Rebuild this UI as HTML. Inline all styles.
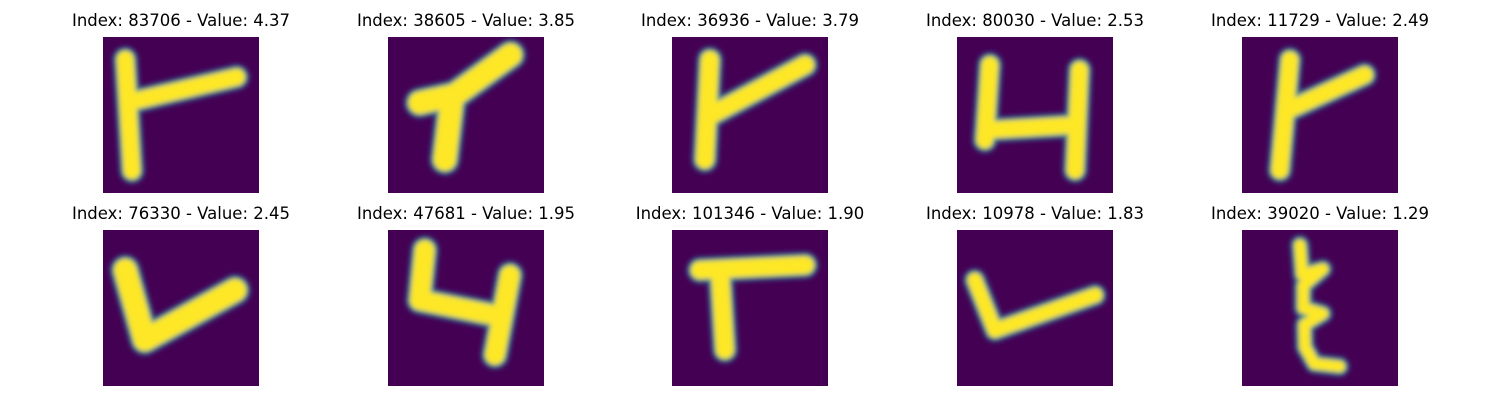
<!DOCTYPE html>
<html><head><meta charset="utf-8">
<style>
html,body{margin:0;padding:0;background:#fff;}
#root{position:relative;width:1500px;height:400px;overflow:hidden;font-family:"DejaVu Sans","Liberation Sans",sans-serif;}
.title{position:absolute;width:300px;text-align:center;font-size:16.5px;color:#000;white-space:nowrap;}
svg.img{position:absolute;width:156px;height:156px;}
</style></head>
<body>
<div id="root"></div>
<script>
const indices=[83706,38605,36936,80030,11729,76330,47681,101346,10978,39020];
const values=[4.37,3.85,3.79,2.53,2.49,2.45,1.95,1.90,1.83,1.29];
const strokes=[
 [[[4,4],[5.2,24]],[[5.5,11.5],[24,7.2]]],
 [[[10.2,22],[11.5,11]],[[5.7,11.8],[12,10.4],[22,3.2]]],
 [[[6.8,4.1],[5.9,22]],[[7,14],[23.9,5]]],
 [[[5.9,5],[5,18.5]],[[5.5,16.7],[21.2,15.8]],[[22,5.9],[21.2,23.9]]],
 [[[8.6,4.1],[6.8,23.9]],[[8.5,13],[22,6.8]]],
 [[[4,7.2],[7.5,19.7],[23.7,10.8]]],
 [[[6.6,3.6],[5.7,12.6],[19.2,15.3]],[[21.9,8.1],[19.2,22.4]]],
 [[[5,7.2],[23.9,6.3]],[[8.6,7.2],[9.5,21.5]]],
 [[[3.2,9],[6.8,18],[24.8,11.7]]],
 [[[10.4,2.7],[10.8,8],[14.5,7],[11,10],[11,14],[14.5,15],[11.2,17],[11.3,21],[13,24],[17.5,24.5]]]
];
const widths=[3,4,3.2,3,3,4,3.5,3.2,2.6,2];
const colX=[103,388,672,957,1242];
const rowY=[37,230];
const root=document.getElementById('root');
const NS='http://www.w3.org/2000/svg';
for(let i=0;i<10;i++){
  const x=colX[i%5], y=rowY[Math.floor(i/5)];
  const t=document.createElement('div');
  t.className='title';
  
  
  t.style.left=(x+78-150)+'px';t.style.top=(y-26)+'px';
  t.textContent='Index: '+indices[i]+' - Value: '+values[i].toFixed(2);
  root.appendChild(t);
  const s=document.createElementNS(NS,'svg');
  s.setAttribute('class','img');
  
  
  s.setAttribute('viewBox','0 0 28 28');
  s.style.left=x+'px';s.style.top=y+'px';
  s.innerHTML='<defs><filter id="b'+i+'" filterUnits="userSpaceOnUse" x="0" y="0" width="28" height="28"><feGaussianBlur stdDeviation="0.45"/></filter></defs><rect width="28" height="28" fill="#440154"/>';
  const g=document.createElementNS(NS,'g');
  g.setAttribute('filter','url(#b'+i+')');
  const layers=[['#3b528b',widths[i]+1.6],['#21918c',widths[i]+0.8],['#fde725',widths[i]]];
  for(const [col,w] of layers){
    for(const st of strokes[i]){
      const p=document.createElementNS(NS,'polyline');
      p.setAttribute('points',st.map(q=>q.join(',')).join(' '));
      p.setAttribute('fill','none');p.setAttribute('stroke',col);
      p.setAttribute('stroke-width',w);p.setAttribute('stroke-linecap','round');p.setAttribute('stroke-linejoin','round');
      g.appendChild(p);
    }
  }
  s.appendChild(g);
  root.appendChild(s);
}
</script>
</body></html>
